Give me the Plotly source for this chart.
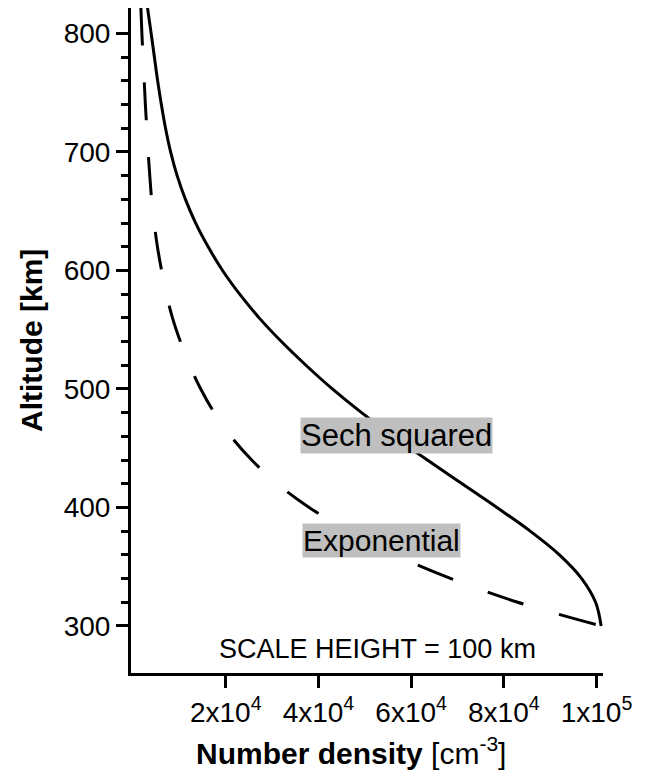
import plotly.graph_objects as go

# Sech squared profile (altitude km, number density cm^-3)
sech_alt = [822, 800, 780, 760, 740, 720, 700, 680, 660, 640, 620, 600, 580, 560, 540, 520, 500,
            480, 460, 440, 420, 400, 380, 360, 340, 320, 300]
sech_density = [3100, 3900, 4600, 5300, 6100, 7000, 8100, 9500, 11300, 13500, 16200, 19300, 23000,
                27200, 32000, 37300, 43000, 49300, 56200, 63500, 71000, 78500, 85700, 92000, 96800,
                99800, 101000]

# Exponential profile
exp_alt = [822, 800, 780, 760, 740, 720, 700, 680, 660, 640, 620, 600, 580, 560, 540, 520, 500,
           480, 460, 440, 420, 400, 380, 360, 340, 320, 300]
exp_density = [1680, 1900, 2150, 2400, 2650, 2950, 3250, 3600, 4000, 4550, 5250, 6150, 7200, 8500,
               10200, 12200, 14600, 17500, 21100, 25600, 31100, 38000, 46400, 56500, 68600, 83000,
               101000]

x_tickvals = [20000, 40000, 60000, 80000, 100000]
x_ticktext = ["2x10<sup>4</sup>", "4x10<sup>4</sup>", "6x10<sup>4</sup>", "8x10<sup>4</sup>", "1x10<sup>5</sup>"]
y_tickvals = [300, 400, 500, 600, 700, 800]
y_minor = [v for v in range(320, 800, 20) if v % 100 != 0]

FONT = "Liberation Sans, Arial, sans-serif"

fig = go.Figure()
fig.add_trace(go.Scatter(x=sech_density, y=sech_alt, mode="lines",
                         line=dict(color="black", width=3, shape="spline", smoothing=1.0),
                         showlegend=False, hoverinfo="skip"))
fig.add_trace(go.Scatter(x=exp_density, y=exp_alt, mode="lines",
                         line=dict(color="black", width=3, shape="spline", smoothing=1.0, dash="38px,37px"),
                         showlegend=False, hoverinfo="skip"))

fig.update_layout(
    width=648, height=771,
    margin=dict(l=131, r=45, t=8, b=98),
    paper_bgcolor="white", plot_bgcolor="white",
    font=dict(family=FONT, color="black"),
    xaxis=dict(range=[-450, 101400], showline=True, linewidth=3, linecolor="black",
               showgrid=False, zeroline=False, ticks="outside", ticklen=12, tickwidth=3,
               tickcolor="black", tickvals=x_tickvals, ticktext=x_ticktext,
               tickfont=dict(size=28, family=FONT, color="black")),
    yaxis=dict(range=[260.3, 821.5], showline=True, linewidth=3, linecolor="black",
               showgrid=False, zeroline=False, ticks="outside", ticklen=12, tickwidth=3,
               tickcolor="black", tickvals=y_tickvals,
               tickfont=dict(size=28, family=FONT, color="black"),
               minor=dict(tickvals=y_minor, ticks="outside", ticklen=7, tickwidth=3,
                          tickcolor="black", showgrid=False)),
    annotations=[
        dict(x=56900, y=460.4, xref="x", yref="y", text="Sech squared", showarrow=False,
             font=dict(size=31, family=FONT, color="black"), bgcolor="#bfbfbf", borderpad=0),
        dict(x=53500, y=371.8, xref="x", yref="y", text="Exponential", showarrow=False,
             font=dict(size=30, family=FONT, color="black"), bgcolor="#bfbfbf", borderpad=0),
        dict(x=52800, y=280.4, xref="x", yref="y", text="SCALE HEIGHT = 100 km", showarrow=False,
             font=dict(size=27, family=FONT, color="black")),
        dict(x=(351 - 131) / 472, y=(673 - 751) / 665, xref="paper", yref="paper",
             text="<b>Number density</b> [cm<sup>-3</sup>]", showarrow=False,
             font=dict(size=30, family=FONT, color="black"), xanchor="center", yanchor="middle"),
        dict(x=(32 - 131) / 472, y=(673 - 341) / 665, xref="paper", yref="paper",
             text="<b>Altitude [km]</b>", showarrow=False, textangle=-90,
             font=dict(size=30, family=FONT, color="black"), xanchor="center", yanchor="middle"),
    ],
)

fig.write_html("out.html")
